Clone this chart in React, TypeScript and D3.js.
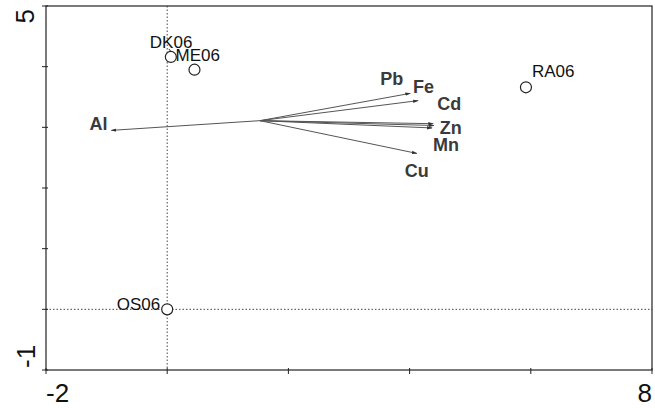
import React from "react";
import * as d3 from "d3";

// site scores
const sites = ["DK06", "ME06", "OS06", "RA06"];
const siteX = [0.06, 0.45, 0.0, 5.92];
const siteY = [4.16, 3.95, 0.0, 3.66];

// element loadings (arrows start at a common origin)
const origin = [1.53, 3.11];
const elements = ["Al", "Pb", "Fe", "Cd", "Zn", "Mn", "Cu"];
const elemX = [-0.92, 4.01, 4.14, 4.39, 4.4, 4.37, 4.12];
const elemY = [2.95, 3.56, 3.44, 3.06, 3.03, 2.99, 2.57];

const xTicks = [-2, 0, 2, 4, 6, 8];
const yTicks = [-1, 0, 1, 2, 3, 4, 5];

// label nudges in px (text placement only)
const siteNudge: Record<string, [number, number, string]> = {
	DK06: [-21, -9, "start"],
	ME06: [-19, -9, "start"],
	OS06: [-7, 0.5, "end"],
	RA06: [6, -10, "start"]
};
const elemNudge: Record<string, [number, number, string]> = {
	Al: [-4, 0, "end"],
	Pb: [-30, -8, "start"],
	Fe: [-5, -8, "start"],
	Cd: [4, -14, "start"],
	Zn: [6, 8, "start"],
	Mn: [1, 23, "start"],
	Cu: [-12, 24, "start"]
};

const width = 655;
const height = 408;
const left = 46;
const right = 652;
const top = 6;
const bottom = 370;

export default function App() {
	const x = d3.scaleLinear().domain([-2, 8]).range([left, right]);
	const y = d3.scaleLinear().domain([-1, 5]).range([bottom, top]);
	const font = "'Liberation Sans', Arial, sans-serif";

	return (
		<div style={{ position: "absolute", left: 0, top: 0 }}>
			<svg width={width} height={height} style={{ display: "block", background: "#fff" }}>
				<defs>
					<marker id="head" viewBox="0 0 10 10" refX="9" refY="5" markerWidth="5.5" markerHeight="5.5" orient="auto">
						<path d="M0,2 L10,5 L0,8 z" fill="#333" />
					</marker>
				</defs>

				{/* zero lines */}
				<line x1={x(0)} x2={x(0)} y1={top} y2={bottom} stroke="#444" strokeWidth={1} strokeDasharray="1.5,2" />
				<line x1={left} x2={right} y1={y(0)} y2={y(0)} stroke="#444" strokeWidth={1} strokeDasharray="1.5,2" />

				{/* frame */}
				<rect x={left} y={top} width={right - left} height={bottom - top} fill="none" stroke="#222" strokeWidth={1.2} />

				{/* ticks */}
				{xTicks.map((t) => (
					<line key={"xt" + t} x1={x(t)} x2={x(t)} y1={bottom - 2} y2={bottom + 4} stroke="#222" strokeWidth={1} />
				))}
				{yTicks.map((t) => (
					<line key={"yt" + t} x1={left - 4} x2={left + 2} y1={y(t)} y2={y(t)} stroke="#222" strokeWidth={1} />
				))}

				{/* axis end labels */}
				<text x={x(-2)} y={402} fontFamily={font} fontSize={26} textAnchor="start" fill="#111">-2</text>
				<text x={x(8)} y={402} fontFamily={font} fontSize={26} textAnchor="end" fill="#111">8</text>
				<text transform={`translate(34,${y(5) + 3}) rotate(-90)`} fontFamily={font} fontSize={26} textAnchor="end" fill="#111">5</text>
				<text transform={`translate(35,${y(-1) - 2}) rotate(-90)`} fontFamily={font} fontSize={26} textAnchor="start" fill="#111">-1</text>

				{/* arrows */}
				{elements.map((e, i) => (
					<line
						key={"a" + e}
						x1={x(origin[0])}
						y1={y(origin[1])}
						x2={x(elemX[i])}
						y2={y(elemY[i])}
						stroke="#555"
						strokeWidth={1}
						markerEnd="url(#head)"
					/>
				))}
				{elements.map((e, i) => {
					const [dx, dy, anchor] = elemNudge[e];
					return (
						<text
							key={"al" + e}
							x={x(elemX[i]) + dx}
							y={y(elemY[i]) + dy}
							fontFamily={font}
							fontSize={18}
							fontWeight="bold"
							textAnchor={anchor}
							fill="#3a3a3a"
						>
							{e}
						</text>
					);
				})}

				{/* leader line for DK06 */}
				<line x1={x(siteX[0]) - 2} y1={y(siteY[0]) - 8} x2={x(siteX[0]) + 2} y2={y(siteY[0]) - 3} stroke="#222" strokeWidth={1} />

				{/* sites */}
				{sites.map((s, i) => (
					<circle key={"c" + s} cx={x(siteX[i])} cy={y(siteY[i])} r={5.5} fill="#fff" stroke="#222" strokeWidth={1.2} />
				))}
				{sites.map((s, i) => {
					const [dx, dy, anchor] = siteNudge[s];
					return (
						<text
							key={"sl" + s}
							x={x(siteX[i]) + dx}
							y={y(siteY[i]) + dy}
							fontFamily={font}
							fontSize={17}
							textAnchor={anchor}
							fill="#111"
						>
							{s}
						</text>
					);
				})}
			</svg>
		</div>
	);
}
